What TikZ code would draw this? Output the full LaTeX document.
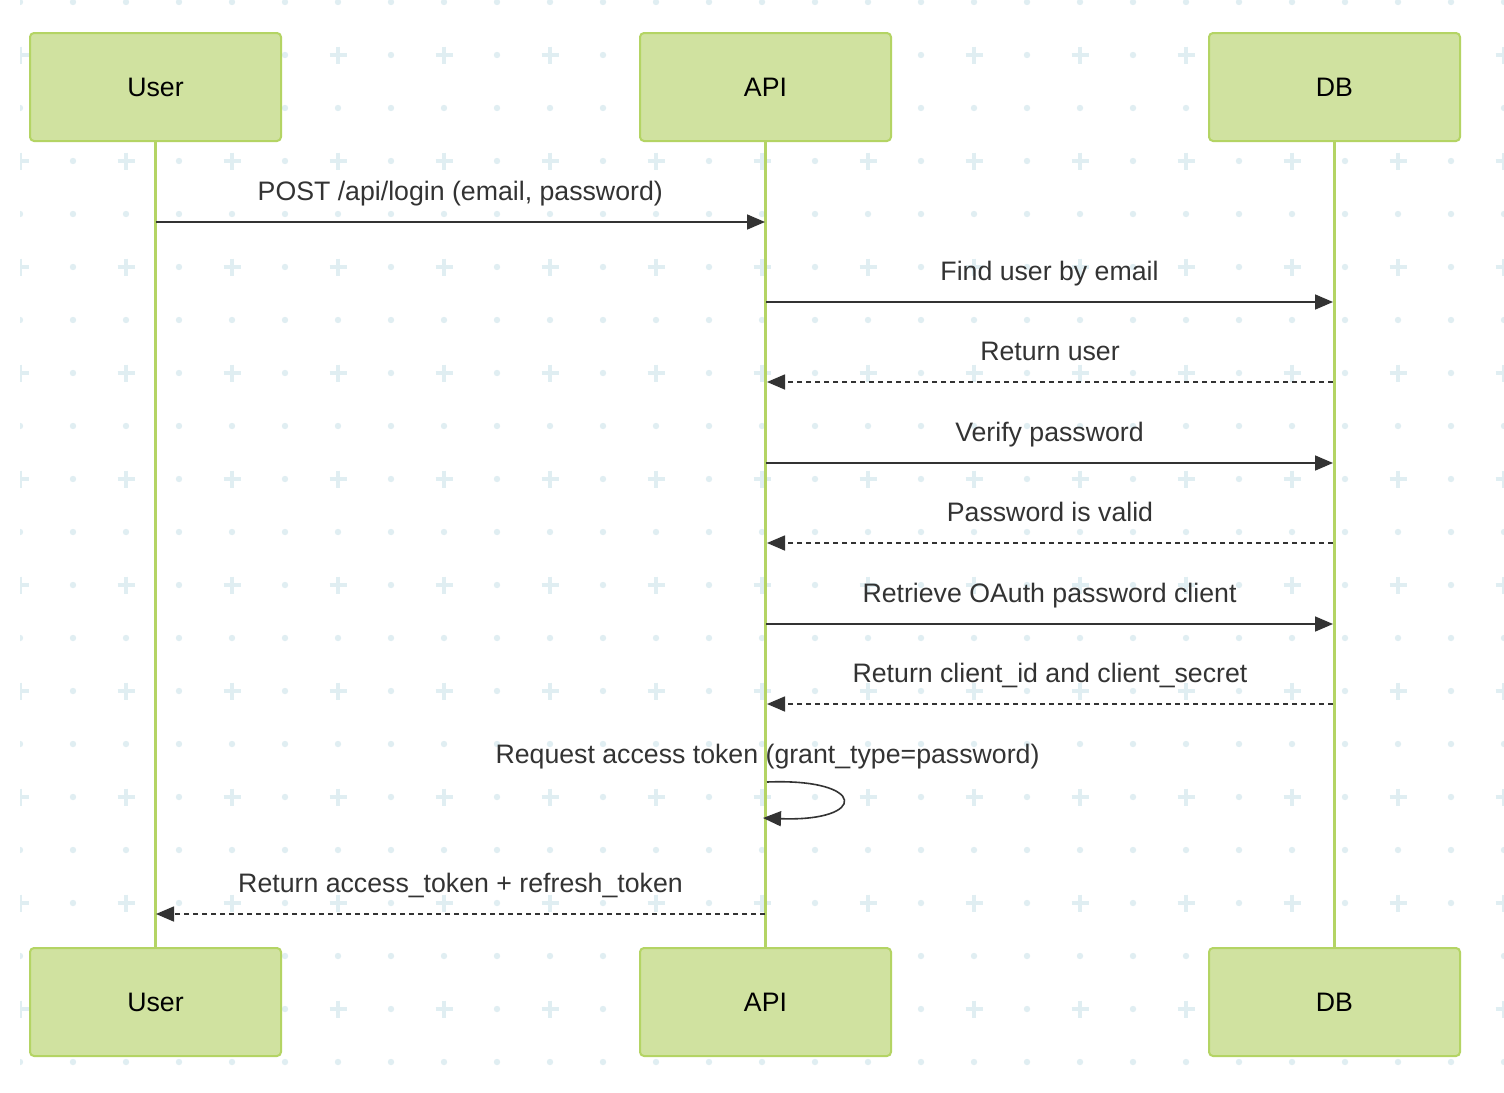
\documentclass[tikz,border=0pt]{standalone}
\usepackage{fontspec}
\setmainfont{Liberation Sans}
\usetikzlibrary{arrows.meta}
\definecolor{actfill}{HTML}{D0E2A0}
\definecolor{actline}{HTML}{B4D464}
\definecolor{msgcol}{HTML}{333333}
\definecolor{gridcol}{HTML}{E0EEF2}
\tikzset{
  actor/.style={draw=actline, fill=actfill, line width=2pt, rounded corners=4pt,
    minimum width=251pt, minimum height=108pt, inner sep=0pt,
    font=\fontsize{26.7}{32}\selectfont, text=black},
  life/.style={draw=actline, line width=3pt},
  msg/.style={draw=msgcol, line width=1.6pt, -{Triangle[length=18pt,width=15pt]}},
  reply/.style={msg, dash pattern=on 5pt off 4pt},
  lbl/.style={font=\fontsize{26.7}{32}\selectfont, text=msgcol, inner sep=0pt, anchor=base},
}
\begin{document}
\begin{tikzpicture}[x=1pt,y=-1pt]
\useasboundingbox (0,0) rectangle (1504,1092);
\fill[white] (0,0) rectangle (1504,1092);
% background pattern
\begin{scope}
\clip (20,0) rectangle (1504,1092);
\foreach \k in {0,...,28}{
  \foreach \m in {0,...,20}{
    \pgfmathsetmacro{\px}{20+53*\k}
    \pgfmathsetmacro{\py}{2+53*\m}
    \pgfmathtruncatemacro{\isplus}{(mod(\k,2)==0 && mod(\m,2)==1) ? 1 : 0}
    \ifnum\isplus=1
      \draw[gridcol, line width=4.5pt] (\px-8.5,\py) -- (\px+8.5,\py) (\px,\py-8.5) -- (\px,\py+8.5);
    \else
      \fill[gridcol] (\px,\py) circle (3.2pt);
    \fi
  }
}
\end{scope}
% actors
\node[actor] (u1) at (155.5,87) {User};
\node[actor] (a1) at (765.5,87) {API};
\node[actor] (d1) at (1334.5,87) {DB};
\node[actor] (u2) at (155.5,1002) {User};
\node[actor] (a2) at (765.5,1002) {API};
\node[actor] (d2) at (1334.5,1002) {DB};
% lifelines
\draw[life] (u1.south) -- (u2.north);
\draw[life] (a1.south) -- (a2.north);
\draw[life] (d1.south) -- (d2.north);
% message end points
\coordinate (m1s) at (155.5,222); \coordinate (m1e) at (765,222);
\coordinate (m2s) at (766,302);   \coordinate (m2e) at (1333,302);
\coordinate (m3s) at (1333,382);  \coordinate (m3e) at (767,382);
\coordinate (m4s) at (766,463);   \coordinate (m4e) at (1333,463);
\coordinate (m5s) at (1333,543);  \coordinate (m5e) at (767,543);
\coordinate (m6s) at (766,624);   \coordinate (m6e) at (1333,624);
\coordinate (m7s) at (1333,704);  \coordinate (m7e) at (767,704);
\coordinate (m8s) at (767,782);   \coordinate (m8e) at (763,818);
\coordinate (m9s) at (765,914);   \coordinate (m9e) at (156,914);
% messages
\draw[msg] (m1s) -- node[lbl, midway, yshift=22pt] (t1) {POST /api/login (email, password)} (m1e);
\draw[msg] (m2s) -- node[lbl, midway, yshift=22pt] (t2) {Find user by email} (m2e);
\draw[reply] (m3s) -- node[lbl, midway, yshift=22pt] (t3) {Return user} (m3e);
\draw[msg] (m4s) -- node[lbl, midway, yshift=22pt] (t4) {Verify password} (m4e);
\draw[reply] (m5s) -- node[lbl, midway, yshift=22pt] (t5) {Password is valid} (m5e);
\draw[msg] (m6s) -- node[lbl, midway, yshift=22pt] (t6) {Retrieve OAuth password client} (m6e);
\draw[reply] (m7s) -- node[lbl, midway, yshift=22pt] (t7) {Return client\_id and client\_secret} (m7e);
\node[lbl] (t8) at (767.5,763) {Request access token (grant\_type=password)};
\draw[msg] (m8s) .. controls (868,778) and (868,822) .. (m8e);
\draw[reply] (m9s) -- node[lbl, midway, yshift=22pt] (t9) {Return access\_token + refresh\_token} (m9e);
\end{tikzpicture}
\end{document}
